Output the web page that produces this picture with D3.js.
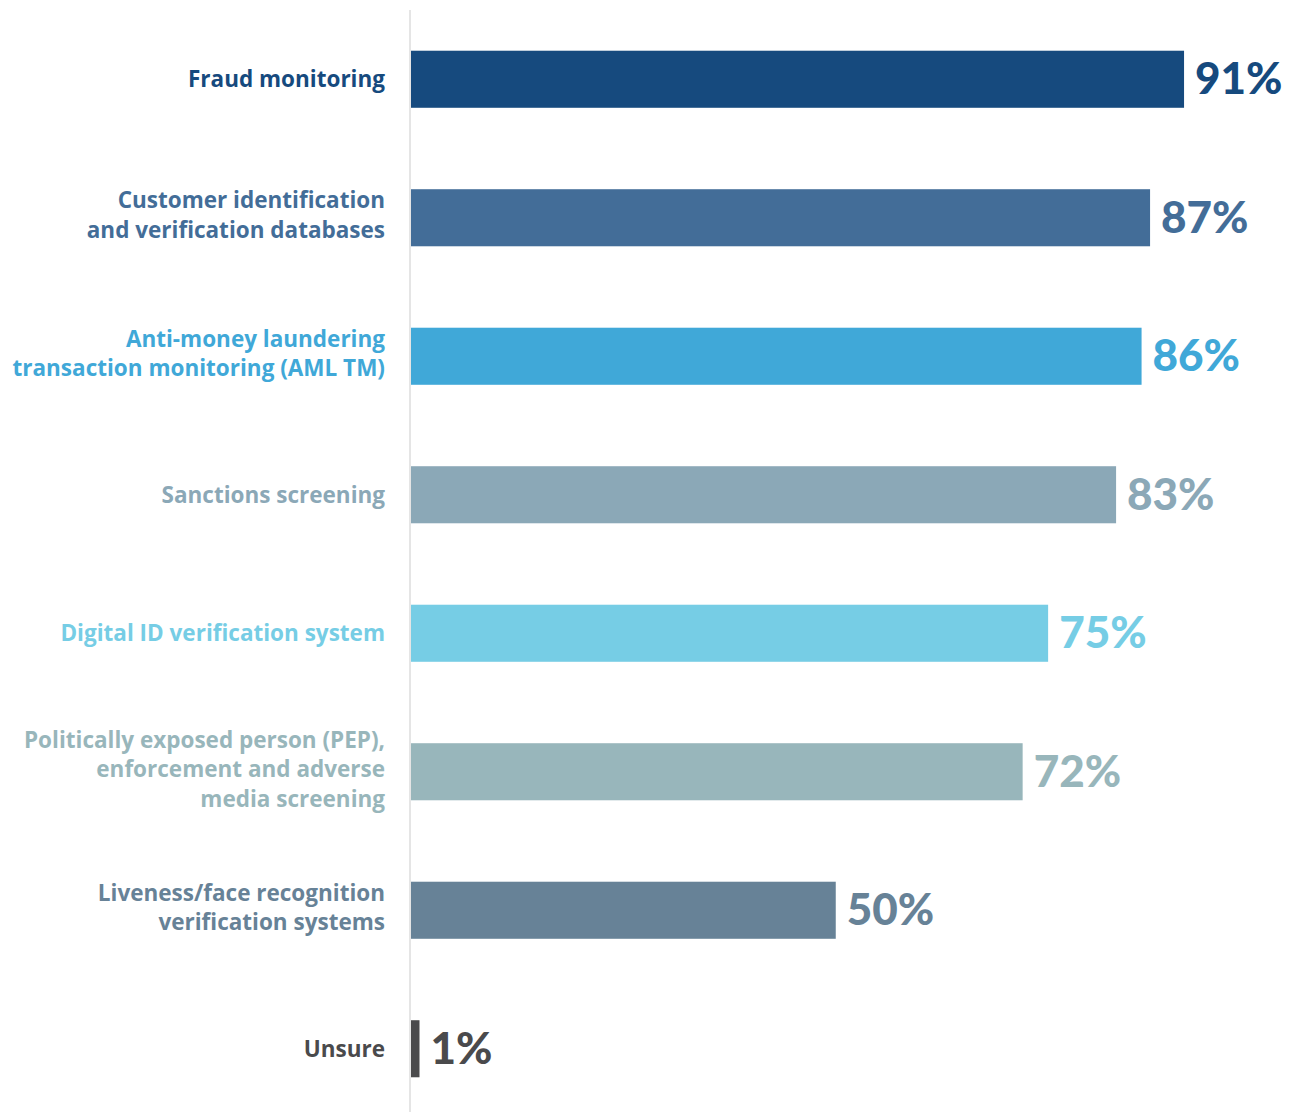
<!DOCTYPE html>
<html>
<head>
<meta charset="utf-8">
<script src="https://cdn.jsdelivr.net/npm/d3@7/dist/d3.min.js"></script>
<style>
  html, body { margin: 0; padding: 0; background: #ffffff; }
  svg { display: block; }
</style>
</head>
<body>
<div id="chart"></div>
<script>
// Survey: technologies in use, share of respondents
const categories = [
  ["Fraud monitoring"],
  ["Customer identification", "and verification databases"],
  ["Anti-money laundering", "transaction monitoring (AML TM)"],
  ["Sanctions screening"],
  ["Digital ID verification system"],
  ["Politically exposed person (PEP),", "enforcement and adverse", "media screening"],
  ["Liveness/face recognition", "verification systems"],
  ["Unsure"]
];
const values = [91, 87, 86, 83, 75, 72, 50, 1];
const colors = ["#164a7e", "#436d98", "#40a8d8", "#8ba8b7", "#76cde5", "#98b6bb", "#678297", "#4a4a4c"];

const width = 1293, height = 1112;
const margin = { top: 10, right: 33, bottom: 0, left: 411 };

const svg = d3.select("#chart").append("svg")
  .attr("width", width)
  .attr("height", height);

const x = d3.scaleLinear()
  .domain([0, 100])
  .range([margin.left, margin.left + 849.5]);

const y = d3.scaleBand()
  .domain(d3.range(values.length))
  .range([10, 1118])
  .paddingInner(0.588)
  .paddingOuter(0.294);

// vertical baseline
svg.append("line")
  .attr("x1", 410).attr("x2", 410)
  .attr("y1", margin.top).attr("y2", height)
  .attr("stroke", "#e5e5e5")
  .attr("stroke-width", 2);

const rows = svg.selectAll("g.row")
  .data(values)
  .join("g")
  .attr("class", "row");

rows.append("rect")
  .attr("x", x(0))
  .attr("y", (d, i) => y(i))
  .attr("width", d => x(d) - x(0))
  .attr("height", y.bandwidth())
  .attr("fill", (d, i) => colors[i]);

rows.append("text")
  .attr("x", d => x(d) + 11)
  .attr("y", (d, i) => y(i) + y.bandwidth() / 2)
  .attr("dy", "0.34em")
  .attr("font-family", "Lato, 'Open Sans', sans-serif")
  .attr("font-weight", 900)
  .attr("font-size", 44)
  .attr("fill", (d, i) => colors[i])
  .text(d => d + "%");

const lineH = 29.5;
rows.append("text")
  .attr("text-anchor", "end")
  .attr("font-family", "'Open Sans', Lato, sans-serif")
  .attr("font-weight", 700)
  .attr("font-size", 22.5)
  .attr("fill", (d, i) => colors[i])
  .each(function (d, i) {
    const lines = categories[i];
    const cy = y(i) + y.bandwidth() / 2;
    const start = cy - (lines.length - 1) * lineH / 2 - (lines.length > 1 ? 2.5 : 0);
    d3.select(this).selectAll("tspan")
      .data(lines)
      .join("tspan")
      .attr("x", 385)
      .attr("y", (l, k) => start + k * lineH)
      .attr("dy", "0.35em")
      .text(l => l);
  });
</script>
</body>
</html>
